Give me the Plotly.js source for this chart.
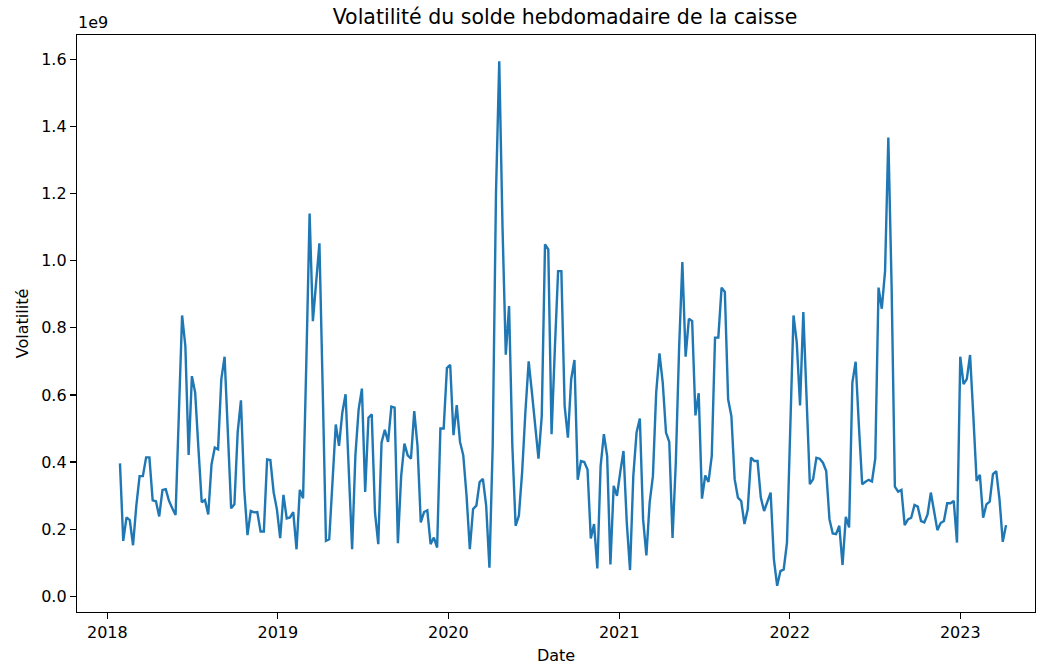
<!DOCTYPE html>
<html>
<head>
<meta charset="utf-8">
<script src="https://cdn.plot.ly/plotly-3.0.1.min.js"></script>
<style>html,body{margin:0;padding:0;background:#fff;}#chart{width:1038px;height:668px;}</style>
</head>
<body>
<div id="chart"></div>
<script>
// Weekly series (W-SUN), starting Sunday 2018-01-28
const startDate = "2018-01-28";
const stepDays = 7;
// Volatility values in units of 1e9
const volatility = [
 0.396,0.165,0.235,0.227,0.152,0.27,0.358,0.358,0.414,0.414,0.286,0.283,0.238,0.317,0.319,0.284,0.262,0.242,0.54,0.837,0.746,0.421,0.656,0.607,
 0.44,0.28,0.287,0.244,0.393,0.443,0.438,0.647,0.714,0.5,0.262,0.274,0.489,0.584,0.319,0.182,0.254,0.25,0.251,0.193,0.193,0.408,0.406,0.31,0.259,0.173,0.302,0.232,0.235,0.251,0.14,0.317,0.292,
 0.7,1.141,0.82,0.93,1.052,0.62,0.165,0.17,0.34,0.512,0.448,0.547,0.602,0.39,0.14,0.42,0.557,0.619,0.311,0.532,0.542,0.249,0.155,0.458,0.496,0.46,0.565,0.562,0.158,0.358,0.455,0.42,0.41,0.552,0.448,0.22,0.251,0.256,0.155,0.175,0.145,
 0.50,0.50,0.68,0.69,0.48,0.57,0.46,0.42,0.30,0.14,0.26,0.27,0.34,0.35,0.27,0.085,0.45,1.2,1.595,1.1,0.72,0.865,0.45,0.21,0.24,0.37,0.55,0.70,0.607,0.507,0.41,0.537,1.049,1.034,0.483,0.736,0.969,0.969,0.567,0.473,0.647,0.704,0.347,0.403,0.4,0.378,0.172,0.215,0.083,0.388,0.483,0.418,0.095,
 0.329,0.299,0.369,0.433,0.22,0.078,0.358,0.488,0.53,0.229,0.122,0.279,0.358,0.607,0.724,0.637,0.488,0.46,0.174,0.398,0.736,0.996,0.714,0.827,0.82,0.539,0.605,0.291,0.36,0.341,0.418,0.771,0.771,0.92,0.907,0.587,0.537,0.349,0.294,0.284,0.215,0.259,0.413,0.403,0.403,0.294,0.254,0.279,0.309,0.11,0.031,0.075,0.08,0.16,0.49,0.837,0.756,0.569,0.847,0.587,0.334,0.349,0.413,0.41,0.398,0.373,0.229,0.187,0.185,0.21,0.093,0.237,0.205,0.637,0.699,0.507,0.334,0.341,0.347,0.342,0.41,0.92,0.857,0.969,1.367,0.925,0.327,0.312,0.317,0.212,0.229,0.234,0.272,0.267,0.224,0.22,0.244,0.309,0.249,0.197,0.218,0.224,0.277,0.277,0.284,0.16,0.714,0.632,0.647,0.719,0.537,0.344,0.362,0.234,0.274,0.282,0.364,0.373,0.289,0.162,0.212
];
const yTickVals = [0.0,0.2,0.4,0.6,0.8,1.0,1.2,1.4,1.6];
const xTickYears = ["2018","2019","2020","2021","2022","2023"];

const dates = [];
{
  const t0 = Date.parse(startDate + "T00:00:00Z");
  for (let i = 0; i < volatility.length; i++) {
    const d = new Date(t0 + i * stepDays * 86400000);
    dates.push(d.toISOString().slice(0,10));
  }
}

const FONT = "DejaVu Sans, Liberation Sans, sans-serif";
const TICK = 16;
const trace = {
  x: dates, y: volatility, type: "scatter", mode: "lines",
  line: {color: "#1f77b4", width: 2.4}, hoverinfo: "skip"
};
const layout = {
  width: 1038, height: 668,
  margin: {l: 77, r: 3, t: 35, b: 56},
  paper_bgcolor: "#fff", plot_bgcolor: "#fff",
  font: {family: FONT, size: TICK, color: "#000"},
  showlegend: false,
  title: {text: "Volatilité du solde hebdomadaire de la caisse", font: {family: FONT, size: 20.5, color: "#000"},
          x: 565/1038, xref: "container", xanchor: "center", y: 1 - 17/668, yref: "container", yanchor: "middle"},
  xaxis: {
    type: "date", range: ["2017-10-28", "2023-06-10"],
    tickvals: xTickYears.map(y => y + "-01-01"), ticktext: xTickYears,
    showgrid: false, zeroline: false, showline: true, mirror: true, linecolor: "#000", linewidth: 1.2,
    ticks: "outside", ticklen: 6, tickwidth: 1.2, tickcolor: "#000",
    tickfont: {family: FONT, size: TICK, color: "#000"},
    title: {text: "Date", font: {family: FONT, size: TICK, color: "#000"}, standoff: 8}
  },
  yaxis: {
    range: [-0.047, 1.673],
    tickvals: yTickVals, ticktext: yTickVals.map(v => v.toFixed(1)),
    showgrid: false, zeroline: false, showline: true, mirror: true, linecolor: "#000", linewidth: 1.2,
    ticks: "outside", ticklen: 6, tickwidth: 1.2, tickcolor: "#000",
    tickfont: {family: FONT, size: TICK, color: "#000"},
    title: {text: "Volatilité", font: {family: FONT, size: TICK, color: "#000"}, standoff: 8}
  },
  annotations: [{
    text: "1e9", xref: "paper", yref: "paper", x: 0, y: 1, xanchor: "left", yanchor: "bottom",
    yshift: 1, xshift: -1, showarrow: false, font: {family: FONT, size: TICK, color: "#000"}
  }]
};
Plotly.newPlot("chart", [trace], layout, {displayModeBar: false, staticPlot: true});
</script>
</body>
</html>
